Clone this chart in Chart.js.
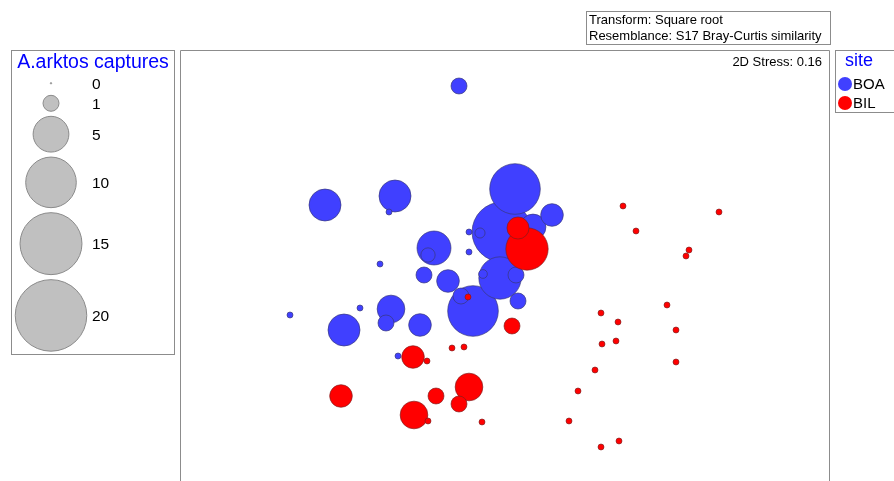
<!DOCTYPE html>
<html>
<head>
<meta charset="utf-8">
<title>A.arktos captures - nMDS bubble plot</title>
<script src="https://cdn.jsdelivr.net/npm/chart.js@4.4.0/dist/chart.umd.min.js"></script>
<style>
  html, body { margin: 0; padding: 0; background: #fff; overflow: hidden; }
  #stage { position: relative; width: 894px; height: 481px; overflow: hidden;
           font-family: "Liberation Sans", Arial, sans-serif; color: #000; }
  canvas { position: absolute; left: 0; top: 0; }
  .box { position: absolute; border: 1px solid #8c8c8c; box-sizing: border-box; }
  .txt { position: absolute; white-space: nowrap; }
  .dot { position: absolute; width: 14px; height: 14px; border-radius: 50%; }
</style>
</head>
<body>
<div id="stage">
  <!-- the plot canvas runs past the bottom edge so the frame stays open there -->
  <canvas id="plot" width="894" height="521"></canvas>
  <canvas id="key" width="180" height="481"></canvas>

  <div class="box" style="left:11px;top:50px;width:164px;height:305px;"></div>
  <div class="txt" id="keyTitle" style="left:11px;width:164px;top:52px;font-size:19.5px;line-height:19.5px;color:#0000ff;text-align:center;">A.arktos captures</div>

  <div class="box" style="left:586px;top:11px;width:245px;height:34px;"></div>
  <div class="txt" style="left:589px;top:12px;font-size:13px;line-height:16px;">Transform: Square root<br>Resemblance: S17 Bray-Curtis similarity</div>

  <div class="txt" style="right:72px;top:55px;font-size:13px;line-height:13px;">2D Stress: 0.16</div>

  <div class="box" style="left:835px;top:50px;width:80px;height:63px;"></div>
  <div class="txt" style="left:840px;width:38px;top:51px;font-size:18px;line-height:18px;color:#0000ff;text-align:center;">site</div>
  <div id="siteKey"></div>
</div>

<script>
// nMDS ordination coordinates and A.arktos capture counts, site BOA
const boaX = [-0.03, 0.10, -0.32, -0.05, -0.71, -1.80, -1.10, -1.61, -1.14, 0.28,
               0.47, -0.57, -0.85, -0.46, -0.81, 0.13, -1.19, 0.11, -0.44, -0.77,
              -0.25, -0.22, -0.36, -0.36, -2.15, -1.45, -1.25, -1.07, -1.16];
const boaY = [0.54, 0.97, -0.25, 0.08, 0.38, 0.81, 0.90, -0.44, -0.23, 0.59,
              0.71, 0.05, -0.39, 2.00, 0.11, -0.15, -0.37, 0.11, -0.10, 0.31,
              0.53, 0.12, 0.54, 0.34, -0.29, -0.22, 0.22, -0.70, 0.74];
const boaCaptures = [14, 10, 10, 7, 4.5, 4, 4, 4, 3, 2.6,
                     2, 2, 2, 1, 1, 1, 1, 1, 1, 0.8,
                     0.4, 0.3, 0.14, 0.14, 0.14, 0.14, 0.14, 0.14, 0.14];

// nMDS ordination coordinates and A.arktos capture counts, site BIL
const bilX = [0.22, -0.36, -0.91, -0.92, -1.64, 0.13, -0.69, -0.46, 0.07,
              -0.37, -0.78, -0.77, -0.53, -0.41, -0.23, 0.64,
              1.18, 2.14, 1.31, 1.84, 1.81, 1.62, 0.96, 1.13, 1.71, 0.97, 1.11, 1.71,
              0.90, 0.73, 0.96, 1.14];
const bilY = [0.37, -1.01, -1.29, -0.71, -1.10, 0.58, -1.10, -1.18, -0.40,
              -0.11, -0.75, -1.35, -0.62, -0.61, -1.36, -1.35,
              0.80, 0.74, 0.55, 0.36, 0.30, -0.19, -0.27, -0.36, -0.44, -0.58, -0.55, -0.76,
              -0.84, -1.05, -1.61, -1.55];
const bilCaptures = [7, 3, 3, 2, 2, 1.9, 1, 1, 1,
                     0.14, 0.14, 0.14, 0.14, 0.14, 0.14, 0.14,
                     0.14, 0.14, 0.14, 0.14, 0.14, 0.14, 0.14, 0.14, 0.14, 0.14, 0.14, 0.14,
                     0.14, 0.14, 0.14, 0.14];

// bubble-size key values
const keyValues = [0, 1, 5, 10, 15, 20];

// sites and their colours
const siteNames = ['BOA', 'BIL'];
const siteColors = ['#4040ff', '#ff0000'];
const siteBorders = ['rgba(55,55,120,0.85)', 'rgba(120,30,30,0.8)'];

// bubble area proportional to captures
const RADIUS_SCALE = 8;
function bubbleRadius(v) { return Math.max(0.7, RADIUS_SCALE * Math.sqrt(v)); }

function toPoints(xs, ys, vs) {
  return xs.map((x, i) => ({ x: x, y: ys[i], r: bubbleRadius(vs[i]) }));
}

// ordination frame: left, top and right edges of the plotting area
const framePlugin = {
  id: 'frame',
  afterDraw(chart) {
    const a = chart.chartArea, ctx = chart.ctx;
    ctx.save();
    ctx.strokeStyle = '#8c8c8c';
    ctx.lineWidth = 1;
    ctx.beginPath();
    ctx.moveTo(a.left + 0.5, chart.height);
    ctx.lineTo(a.left + 0.5, a.top + 0.5);
    ctx.lineTo(a.right + 0.5, a.top + 0.5);
    ctx.lineTo(a.right + 0.5, chart.height);
    ctx.stroke();
    ctx.restore();
  }
};

new Chart(document.getElementById('plot'), {
  type: 'bubble',
  data: {
    datasets: [
      { label: siteNames[0], data: toPoints(boaX, boaY, boaCaptures), order: 1, clip: false,
        backgroundColor: siteColors[0], borderColor: siteBorders[0], borderWidth: 0.8 },
      { label: siteNames[1], data: toPoints(bilX, bilY, bilCaptures), order: 0, clip: false,
        backgroundColor: siteColors[1], borderColor: siteBorders[1], borderWidth: 0.8 }
    ]
  },
  options: {
    responsive: false,
    animation: false,
    devicePixelRatio: 1,
    events: [],
    layout: { padding: { left: 180, top: 50, right: 65, bottom: 40 } },
    scales: {
      x: { type: 'linear', min: -3.25, max: 3.24, display: false },
      y: { type: 'linear', min: -1.95, max: 2.36, display: false }
    },
    plugins: { legend: { display: false }, tooltip: { enabled: false } }
  },
  plugins: [framePlugin]
});

// size key: circles stacked top to bottom with a fixed gap
const KEY_X = 51, KEY_FIRST = 83.3, KEY_GAP = 5, KEY_ZERO_HALF = 7;
const keyCentres = [];
keyValues.forEach((v, i) => {
  if (i === 0) { keyCentres.push(KEY_FIRST); return; }
  const prev = keyValues[i - 1];
  const prevHalf = prev === 0 ? KEY_ZERO_HALF : bubbleRadius(prev);
  keyCentres.push(keyCentres[i - 1] + prevHalf + KEY_GAP + bubbleRadius(v));
});

// key scales run one unit per pixel inside a 40px margin
const KEY_PAD = 40;
new Chart(document.getElementById('key'), {
  type: 'bubble',
  data: {
    datasets: [{
      data: keyValues.map((v, i) => ({ x: KEY_X, y: keyCentres[i], r: bubbleRadius(v) })),
      backgroundColor: '#c0c0c0', borderColor: '#8a8a8a', borderWidth: 1, clip: false
    }]
  },
  options: {
    responsive: false,
    animation: false,
    devicePixelRatio: 1,
    events: [],
    layout: { padding: KEY_PAD },
    scales: {
      x: { type: 'linear', min: KEY_PAD, max: 180 - KEY_PAD, display: false },
      y: { type: 'linear', min: KEY_PAD, max: 481 - KEY_PAD, reverse: true, display: false }
    },
    plugins: { legend: { display: false }, tooltip: { enabled: false } }
  }
});

// size key labels
const stage = document.getElementById('stage');
keyValues.forEach((v, i) => {
  const d = document.createElement('div');
  d.className = 'txt';
  d.style.left = '92px';
  d.style.fontSize = '15.5px';
  d.style.lineHeight = '15.5px';
  d.style.top = (keyCentres[i] - 7.6) + 'px';
  d.textContent = String(v);
  stage.appendChild(d);
});

// site key entries
const siteKey = document.getElementById('siteKey');
const siteRows = [84, 103];
siteNames.forEach((name, i) => {
  const dot = document.createElement('div');
  dot.className = 'dot';
  dot.style.left = (845 - 7) + 'px';
  dot.style.top = (siteRows[i] - 7) + 'px';
  dot.style.background = siteColors[i];
  siteKey.appendChild(dot);
  const t = document.createElement('div');
  t.className = 'txt';
  t.style.left = '853px';
  t.style.fontSize = '15px';
  t.style.lineHeight = '15px';
  t.style.top = (siteRows[i] + 5 - 12.7) + 'px';
  t.textContent = name;
  siteKey.appendChild(t);
});
</script>
</body>
</html>
